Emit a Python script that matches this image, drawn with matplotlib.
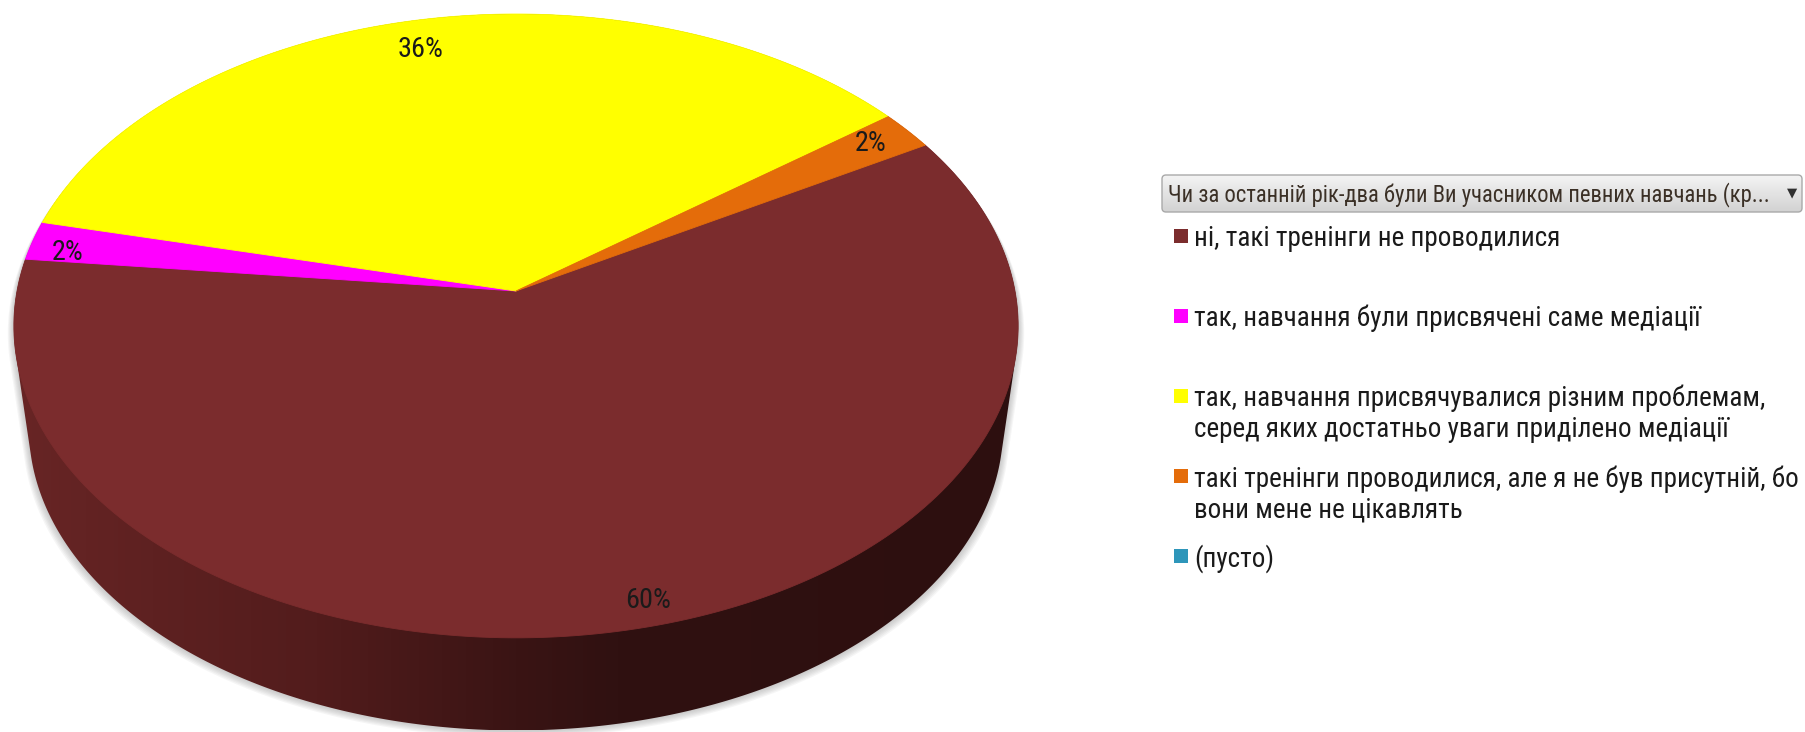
import matplotlib.pyplot as plt
from matplotlib import font_manager
from matplotlib.patches import Polygon, Rectangle, FancyBboxPatch
from matplotlib.colors import LinearSegmentedColormap
import numpy as np

# survey answers and their shares (%)
categories = [
    'ні, такі тренінги не проводилися',
    'так, навчання були присвячені саме медіації',
    'так, навчання присвячувалися різним проблемам,\nсеред яких достатньо уваги приділено медіації',
    'такі тренінги проводилися, але я не був присутній, бо\nвони мене не цікавлять',
    '(пусто)',
]
shares = [60, 2, 36, 2, 0]
colors = ['#7b2c2d', '#ff00ff', '#ffff00', '#e46c0a', '#2e96ba']
filter_title = 'Чи за останній рік-два були Ви учасником певних навчань (кр...'

W, H = 1806, 732

# 3d pie geometry (pixels)
CX, CY = 516, 291
RX, RY, K = 499, 308, 0.112      # K gives the perspective squeeze of the far side
DEPTH, BOTTOM_SCALE = 103, 0.97
START = 60                        # first slice starts 60 deg clockwise from 12 o'clock

# label placement: radius and small angular nudge per slice
label_r = [0.933, 0.92, 0.883, 0.905, 0.9]
label_nudge = [-2.8, -1.6, -1.7, -0.3, 0]

# pick the narrowest sans family that is installed
installed = {f.name for f in font_manager.fontManager.ttflist}
narrow_name = next((n for n in ['Liberation Sans Narrow', 'Roboto Condensed',
                                'DejaVu Sans Condensed', 'Open Sans Condensed',
                                'Roboto', 'Noto Sans']
                    if n in installed), 'DejaVu Sans')
NARROW = [narrow_name, 'DejaVu Sans']


def project(theta_deg, r=1.0, scale=1.0, drop=0.0):
    t = np.radians(theta_deg)
    u = r * np.sin(t)
    v = r * np.cos(t)
    s = 1.0 / (1.0 + K * v)
    return CX + scale * RX * u * s, CY + drop - scale * RY * v * s


def convex_hull(pts):
    pts = sorted(set(map(tuple, np.round(pts, 3))))

    def cross(o, a, b):
        return (a[0] - o[0]) * (b[1] - o[1]) - (a[1] - o[1]) * (b[0] - o[0])

    lower, upper = [], []
    for p in pts:
        while len(lower) >= 2 and cross(lower[-2], lower[-1], p) <= 0:
            lower.pop()
        lower.append(p)
    for p in reversed(pts):
        while len(upper) >= 2 and cross(upper[-2], upper[-1], p) <= 0:
            upper.pop()
        upper.append(p)
    return np.array(lower[:-1] + upper[:-1])


fig = plt.figure(figsize=(W / 100, H / 100), dpi=100)
ax = fig.add_axes([0, 0, 1, 1])
ax.set_xlim(0, W)
ax.set_ylim(H, 0)
ax.axis('off')
renderer = fig.canvas.get_renderer()


def fit_size(txt, width):
    # scale the font so the text spans the given pixel width
    w = txt.get_window_extent(renderer).width
    return txt.get_fontsize() * width / w


# side of the pie: hull of top and bottom rims, shaded left to right
ring = np.linspace(0, 360, 721)
top_rim = np.column_stack(project(ring))
bot_rim = np.column_stack(project(ring, scale=BOTTOM_SCALE, drop=DEPTH))
hull = convex_hull(np.vstack([top_rim, bot_rim]))

# soft drop shadow below the side
for i in range(6, 0, -1):
    sh = hull.copy()
    sh[:, 0] = CX + (sh[:, 0] - CX) * (1 + 0.002 * i)
    sh[:, 1] = sh[:, 1] + 1.2 * i
    ax.add_patch(Polygon(sh, closed=True, facecolor='#7a7a7a', edgecolor='none',
                         alpha=0.07, zorder=1))

side = Polygon(hull, closed=True, facecolor='none', edgecolor='none', zorder=2)
ax.add_patch(side)
side_cmap = LinearSegmentedColormap.from_list(
    'side', [(0, '#682525'), (0.3, '#521c1c'), (0.5, '#3a1414'),
             (0.6, '#301111'), (1, '#2d0f0f')])
x0, x1 = hull[:, 0].min(), hull[:, 0].max()
y0, y1 = hull[:, 1].min(), hull[:, 1].max()
grad = ax.imshow(np.linspace(0, 1, 256)[None, :], cmap=side_cmap, aspect='auto',
                 extent=(x0, x1, y1, y0), zorder=2, interpolation='bilinear')
grad.set_clip_path(side)

# top face slices
total = sum(shares)
bounds = START + np.concatenate([[0], np.cumsum(shares)]) / total * 360
for i, (val, col) in enumerate(zip(shares, colors)):
    if val == 0:
        continue
    arc = np.linspace(bounds[i], bounds[i + 1], 200)
    xs, ys = project(arc)
    poly = np.column_stack([np.r_[CX, xs], np.r_[CY, ys]])
    ax.add_patch(Polygon(poly, closed=True, facecolor=col, edgecolor=col,
                         linewidth=0.6, zorder=3))

# percentage labels, sized so "36%" is about 46 px wide
probe = ax.text(0, 0, '36%', fontsize=14, family=NARROW)
label_size = fit_size(probe, 46)
probe.remove()
for i, val in enumerate(shares):
    if val == 0:
        continue
    mid = (bounds[i] + bounds[i + 1]) / 2 + label_nudge[i]
    lx, ly = project(mid, r=label_r[i])
    ax.text(lx, ly, f'{val}%', fontsize=label_size, family=NARROW,
            color='#1a1a1a', ha='center', va='center', zorder=5)

# filter field header above the legend
hdr = FancyBboxPatch((1162, 175), 640, 37, boxstyle='round,pad=0,rounding_size=4',
                     facecolor='none', edgecolor='#a9a9a9', linewidth=1.0, zorder=4)
ax.add_patch(hdr)
hdr_cmap = LinearSegmentedColormap.from_list('hdr', ['#f4f4f4', '#d2d2d2'])
hg = ax.imshow(np.linspace(0, 1, 64)[:, None], cmap=hdr_cmap, aspect='auto',
               extent=(1162, 1802, 212, 175), zorder=3, interpolation='bilinear')
hg.set_clip_path(hdr)
title = ax.text(1168, 201.5, filter_title, fontsize=14, family=NARROW,
                color='#3b3026', va='baseline', ha='left', zorder=5)
title.set_fontsize(fit_size(title, 604))
ax.text(1792, 193, '▼', fontsize=9.5, family='DejaVu Sans', color='#303030',
        ha='center', va='center', zorder=5)

# legend entries
probe = ax.text(0, 0, categories[0], fontsize=16, family=NARROW)
legend_size = fit_size(probe, 366)
probe.remove()
entry_top, entry_step, line_step = 235.5, 80.2, 31
for i, (lab, col) in enumerate(zip(categories, colors)):
    yc = entry_top + i * entry_step
    ax.add_patch(Rectangle((1174, yc - 7), 14, 14, facecolor=col, edgecolor='none',
                           zorder=4))
    for j, line in enumerate(lab.split('\n')):
        ax.text(1194, yc + 10.5 + j * line_step, line, fontsize=legend_size,
                family=NARROW, color='#1a1a1a', va='baseline', ha='left', zorder=5)

ax.set_xlim(0, W)
ax.set_ylim(H, 0)
fig.savefig('out.png', dpi=100, facecolor='white')
